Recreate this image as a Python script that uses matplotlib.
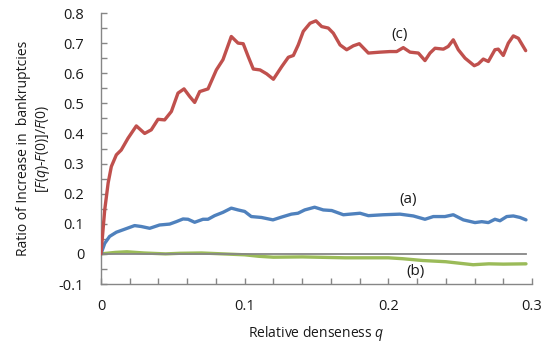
import matplotlib
matplotlib.use("Agg")
import matplotlib.pyplot as plt
from matplotlib.ticker import MultipleLocator
import numpy as np

# values
q_c = [0.0, 0.0026, 0.005, 0.0072, 0.0107, 0.0141, 0.0188, 0.0246, 0.0304, 0.035,
       0.0397, 0.0443, 0.049, 0.0536, 0.0578, 0.0617, 0.0652, 0.0687, 0.0745, 0.0803,
       0.0849, 0.0907, 0.0954, 0.099, 0.1025, 0.106, 0.1107, 0.1153, 0.12, 0.1258,
       0.1304, 0.1339, 0.1373, 0.1408, 0.1455, 0.1496, 0.1536, 0.1582, 0.1617, 0.1664,
       0.171, 0.1756, 0.1798, 0.1861, 0.1942, 0.2012, 0.2058, 0.2104, 0.2151, 0.2209,
       0.2255, 0.229, 0.2325, 0.2383, 0.2417, 0.2452, 0.2487, 0.2534, 0.2598, 0.2626,
       0.2661, 0.2696, 0.2742, 0.2765, 0.28, 0.2835, 0.287, 0.2905, 0.2956]
ratio_c = [0.0, 0.146, 0.236, 0.29, 0.329, 0.345, 0.384, 0.425, 0.40, 0.412,
           0.447, 0.445, 0.473, 0.534, 0.548, 0.523, 0.503, 0.539, 0.548, 0.611,
           0.645, 0.722, 0.70, 0.698, 0.655, 0.614, 0.611, 0.598, 0.58, 0.622,
           0.653, 0.659, 0.694, 0.739, 0.766, 0.774, 0.755, 0.75, 0.733, 0.694,
           0.678, 0.691, 0.698, 0.667, 0.67, 0.672, 0.672, 0.685, 0.67, 0.667,
           0.642, 0.667, 0.683, 0.68, 0.689, 0.711, 0.678, 0.65, 0.625, 0.631,
           0.647, 0.639, 0.678, 0.68, 0.659, 0.70, 0.724, 0.716, 0.675]

q_a = [0.0, 0.0026, 0.006, 0.0107, 0.0165, 0.0234, 0.028, 0.0339, 0.0408, 0.0478,
       0.0524, 0.0571, 0.0606, 0.0652, 0.071, 0.0745, 0.0791, 0.0849, 0.0907, 0.0954,
       0.1, 0.1046, 0.1116, 0.1197, 0.1255, 0.1325, 0.1371, 0.1418, 0.1487, 0.1547,
       0.1606, 0.1687, 0.1803, 0.1861, 0.1965, 0.2081, 0.2174, 0.2255, 0.2313, 0.2394,
       0.2452, 0.2522, 0.2603, 0.265, 0.2696, 0.2742, 0.2777, 0.2824, 0.287, 0.2916,
       0.2958]
ratio_a = [0.0, 0.035, 0.058, 0.072, 0.082, 0.094, 0.091, 0.085, 0.096, 0.099,
           0.107, 0.116, 0.115, 0.105, 0.115, 0.115, 0.127, 0.138, 0.152, 0.146,
           0.141, 0.124, 0.121, 0.113, 0.122, 0.132, 0.135, 0.146, 0.155, 0.146,
           0.144, 0.13, 0.135, 0.127, 0.13, 0.132, 0.126, 0.115, 0.124, 0.124,
           0.13, 0.113, 0.104, 0.107, 0.104, 0.115, 0.11, 0.124, 0.126, 0.121,
           0.113]

q_b = [0.0, 0.01, 0.018, 0.03, 0.045, 0.055, 0.07, 0.085, 0.1, 0.11,
       0.12, 0.14, 0.17, 0.2, 0.21, 0.224, 0.24, 0.259, 0.27, 0.28, 0.2958]
ratio_b = [0.0, 0.005, 0.007, 0.003, 0.0, 0.002, 0.003, 0.0, -0.003, -0.008,
           -0.011, -0.01, -0.013, -0.013, -0.016, -0.022, -0.026, -0.036, -0.033, -0.034, -0.033]

RED = "#C0504D"
BLUE = "#4F81BD"
GREEN = "#9BBB59"
GRAY = "#868686"
TXT = "#1a1a1a"

plt.rcParams['font.family'] = ['Open Sans', 'DejaVu Sans']
plt.rcParams['mathtext.fontset'] = 'custom'
plt.rcParams['mathtext.rm'] = 'Open Sans'
plt.rcParams['mathtext.it'] = 'Open Sans:italic'

fig = plt.figure(figsize=(5.5, 3.45), dpi=100)
ax = fig.add_axes([0.1836, 0.1768, 0.7837, 0.7855])

line_kw = dict(lw=2.4, solid_capstyle='round', solid_joinstyle='round')
ax.plot(q_b, ratio_b, color=GREEN, zorder=2, **line_kw)
ax.axhline(0, xmin=0, xmax=0.2958 / 0.3, color=GRAY, lw=1.3, zorder=3)
ax.plot(q_a, ratio_a, color=BLUE, zorder=4, **line_kw)
ax.plot(q_c, ratio_c, color=RED, zorder=5, **line_kw)

ax.set_xlim(0, 0.3)
ax.set_ylim(-0.1, 0.8)
ax.xaxis.set_major_locator(MultipleLocator(0.1))
ax.xaxis.set_minor_locator(MultipleLocator(0.02))
ax.yaxis.set_major_locator(MultipleLocator(0.1))
ax.yaxis.set_minor_locator(MultipleLocator(0.05))
fmt = plt.FuncFormatter(lambda v, p: "0" if abs(v) < 1e-9 else f"{v:.1f}")
ax.xaxis.set_major_formatter(fmt)
ax.yaxis.set_major_formatter(fmt)

for s in ['top', 'right']:
    ax.spines[s].set_visible(False)
for s in ['left', 'bottom']:
    ax.spines[s].set_color(GRAY)
    ax.spines[s].set_linewidth(1.0)

ax.tick_params(which='both', direction='in', length=4, width=1.0, color=GRAY,
               labelsize=10.5, labelcolor=TXT)
ax.tick_params(axis='x', which='major', pad=11)
ax.tick_params(axis='y', which='major', pad=12)

ax.set_xlabel("Relative denseness $q$", fontsize=10, color=TXT, labelpad=7)
ax.set_ylabel("Ratio of Increase in  bankruptcies\n[$F$($q$)-$F$(0)]/$F$(0)",
              fontsize=10, color=TXT, labelpad=5, linespacing=1.25)

ax.text(0.208, 0.728, "(c)", fontsize=11, ha='center', va='center', color=TXT)
ax.text(0.214, 0.179, "(a)", fontsize=11, ha='center', va='center', color=TXT)
ax.text(0.219, -0.06, "(b)", fontsize=11, ha='center', va='center', color=TXT)

fig.savefig("out.png", dpi=100)
